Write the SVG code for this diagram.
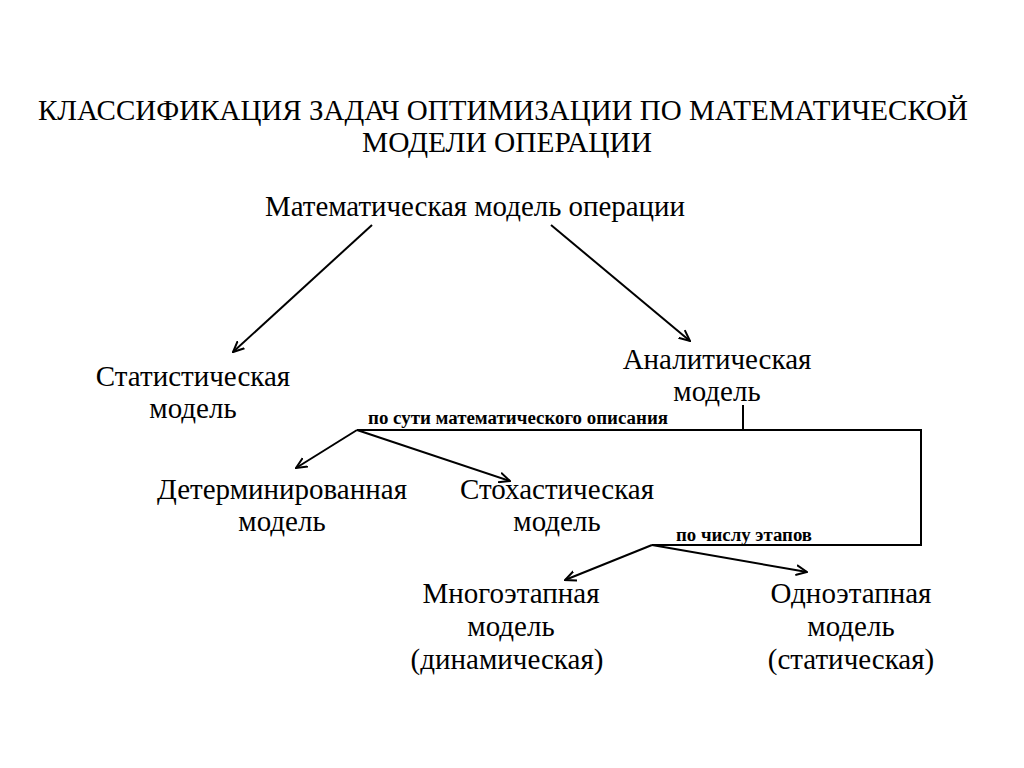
<svg xmlns="http://www.w3.org/2000/svg" width="1024" height="768" viewBox="0 0 1024 768">
<defs>
<marker id="arr" viewBox="0 0 12 12" refX="11" refY="6" markerWidth="12" markerHeight="12" markerUnits="userSpaceOnUse" orient="auto">
<path d="M0,1 L11,6 L0,11" fill="none" stroke="#000" stroke-width="2"/>
</marker>
<style>
.t{font-family:'Liberation Serif','Times New Roman',Times,serif;fill:#000;text-anchor:middle}
.title{font-size:30px}
.n{font-size:29px}
.s{font-size:18px;font-weight:bold}
.c{stroke:#000;stroke-width:2;fill:none}
</style>
</defs>
<rect width="1024" height="768" fill="#fff"/>
<g id="title">
<text class="t title" x="503" y="120" textLength="930" lengthAdjust="spacingAndGlyphs">КЛАССИФИКАЦИЯ ЗАДАЧ ОПТИМИЗАЦИИ ПО МАТЕМАТИЧЕСКОЙ</text>
<text class="t title" x="507" y="152" textLength="290" lengthAdjust="spacingAndGlyphs">МОДЕЛИ ОПЕРАЦИИ</text>
</g>
<g id="root"><text class="t n" x="475" y="216" textLength="420" lengthAdjust="spacingAndGlyphs">Математическая модель операции</text></g>
<g id="stat"><text class="t n" x="193" y="386">Статистическая</text><text class="t n" x="193" y="418">модель</text></g>
<g id="anal"><text class="t n" x="717" y="369">Аналитическая</text><text class="t n" x="717" y="401">модель</text></g>
<g id="det"><text class="t n" x="282" y="499">Детерминированная</text><text class="t n" x="282" y="531">модель</text></g>
<g id="stoch"><text class="t n" x="557" y="499">Стохастическая</text><text class="t n" x="557" y="531">модель</text></g>
<g id="multi"><text class="t n" x="511" y="603">Многоэтапная</text><text class="t n" x="511" y="636">модель</text><text class="t n" x="507" y="669">(динамическая)</text></g>
<g id="single"><text class="t n" x="851" y="603">Одноэтапная</text><text class="t n" x="851" y="636">модель</text><text class="t n" x="851" y="669">(статическая)</text></g>
<g id="labels">
<text class="t s" x="518" y="424" textLength="300" lengthAdjust="spacingAndGlyphs">по сути математического описания</text>
<text class="t s" x="744" y="541" textLength="136" lengthAdjust="spacingAndGlyphs">по числу этапов</text>
</g>
<g id="connectors">
<line class="c" x1="372" y1="225" x2="233" y2="352" marker-end="url(#arr)"/>
<line class="c" x1="551" y1="225" x2="690" y2="341" marker-end="url(#arr)"/>
<polyline class="c" points="743,405 743,430"/>
<polyline class="c" points="357,430 921,430 921,545 652,545"/>
<line class="c" x1="357" y1="430" x2="296" y2="468" marker-end="url(#arr)"/>
<line class="c" x1="357" y1="430" x2="510" y2="481" marker-end="url(#arr)"/>
<line class="c" x1="652" y1="545" x2="565" y2="580" marker-end="url(#arr)"/>
<line class="c" x1="652" y1="545" x2="807" y2="572" marker-end="url(#arr)"/>
</g>
</svg>
